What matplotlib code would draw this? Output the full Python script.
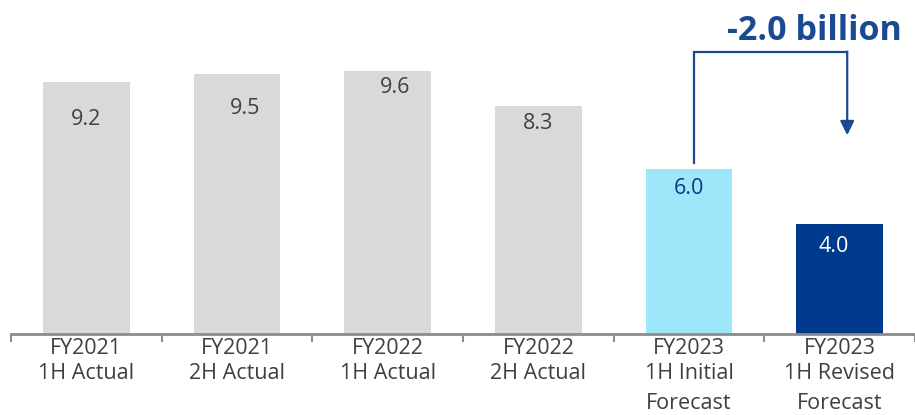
import matplotlib.pyplot as plt
import numpy as np

plt.rcParams["font.family"] = ["Open Sans", "DejaVu Sans"]

categories = [
    "FY2021\n1H Actual",
    "FY2021\n2H Actual",
    "FY2022\n1H Actual",
    "FY2022\n2H Actual",
    "FY2023\n1H Initial\nForecast",
    "FY2023\n1H Revised\nForecast",
]
values = [9.2, 9.5, 9.6, 8.3, 6.0, 4.0]
change_label = "-2.0 billion"

bar_colors = ["#d9d9d9"] * 4 + ["#9ee6fa", "#003a8c"]
text_colors = ["#404040"] * 4 + ["#0b3a80", "#ffffff"]
# label offsets from bar top, in points (dx, dy)
label_offsets = [(0, -27), (6, -25), (5, -12), (0, -12), (0, -14), (-4, -16)]
navy = "#1b4a92"
grey_text = "#404040"

fig = plt.figure(figsize=(9.15, 4.15), dpi=100)
ax = fig.add_axes([11 / 915, 81 / 415, 904 / 915, 329 / 415])

x = np.arange(len(values))
ax.bar(x, values, width=0.575, color=bar_colors, zorder=2)

for xi, v, c, (dx, dy) in zip(x, values, text_colors, label_offsets):
    ax.annotate(f"{v:.1f}", (xi, v), xytext=(dx, dy), textcoords="offset points",
                ha="center", va="center", fontsize=15.5, color=c)

ax.set_xlim(-0.5, 5.5)
ax.set_ylim(0, 12)

# first two lines go in the tick label, any extra line sits a bit lower
ax.set_xticks(x)
ax.set_xticklabels(["\n".join(c.split("\n")[:2]) for c in categories],
                   fontsize=15.5, color=grey_text, linespacing=1.25)
for xi, c in zip(x, categories):
    extra = c.split("\n")[2:]
    if extra:
        ax.annotate("\n".join(extra), (xi, 0), xycoords=("data", "axes fraction"),
                    xytext=(0, -50), textcoords="offset points",
                    ha="center", va="center", fontsize=15.5, color=grey_text)
ax.tick_params(axis="x", which="major", length=0, pad=3)
ax.set_xticks(np.arange(-0.5, 6.0, 1.0), minor=True)
ax.tick_params(axis="x", which="minor", length=6, width=1.5, color="#8c8c8c")
ax.set_yticks([])

for side in ("top", "right", "left"):
    ax.spines[side].set_visible(False)
ax.spines["bottom"].set_color("#8c8c8c")
ax.spines["bottom"].set_linewidth(2)

# bracket from the initial forecast to the revised forecast
x0, x1 = 4.03, 5.05
top = 10.27
ax.plot([x0, x0, x1], [values[4] + 0.22, top, top], color=navy, lw=1.6,
        solid_joinstyle="miter", clip_on=False)
ax.annotate("", xy=(x1, 7.25), xytext=(x1, top + 0.03),
            arrowprops=dict(arrowstyle="-|>,head_length=0.85,head_width=0.42",
                            color=navy, lw=1.6, shrinkA=0, shrinkB=0))
ax.text(4.83, 11.05, change_label, ha="center", va="center", fontsize=24.5,
        fontweight="bold", color=navy)

fig.savefig("out.png", dpi=100)
